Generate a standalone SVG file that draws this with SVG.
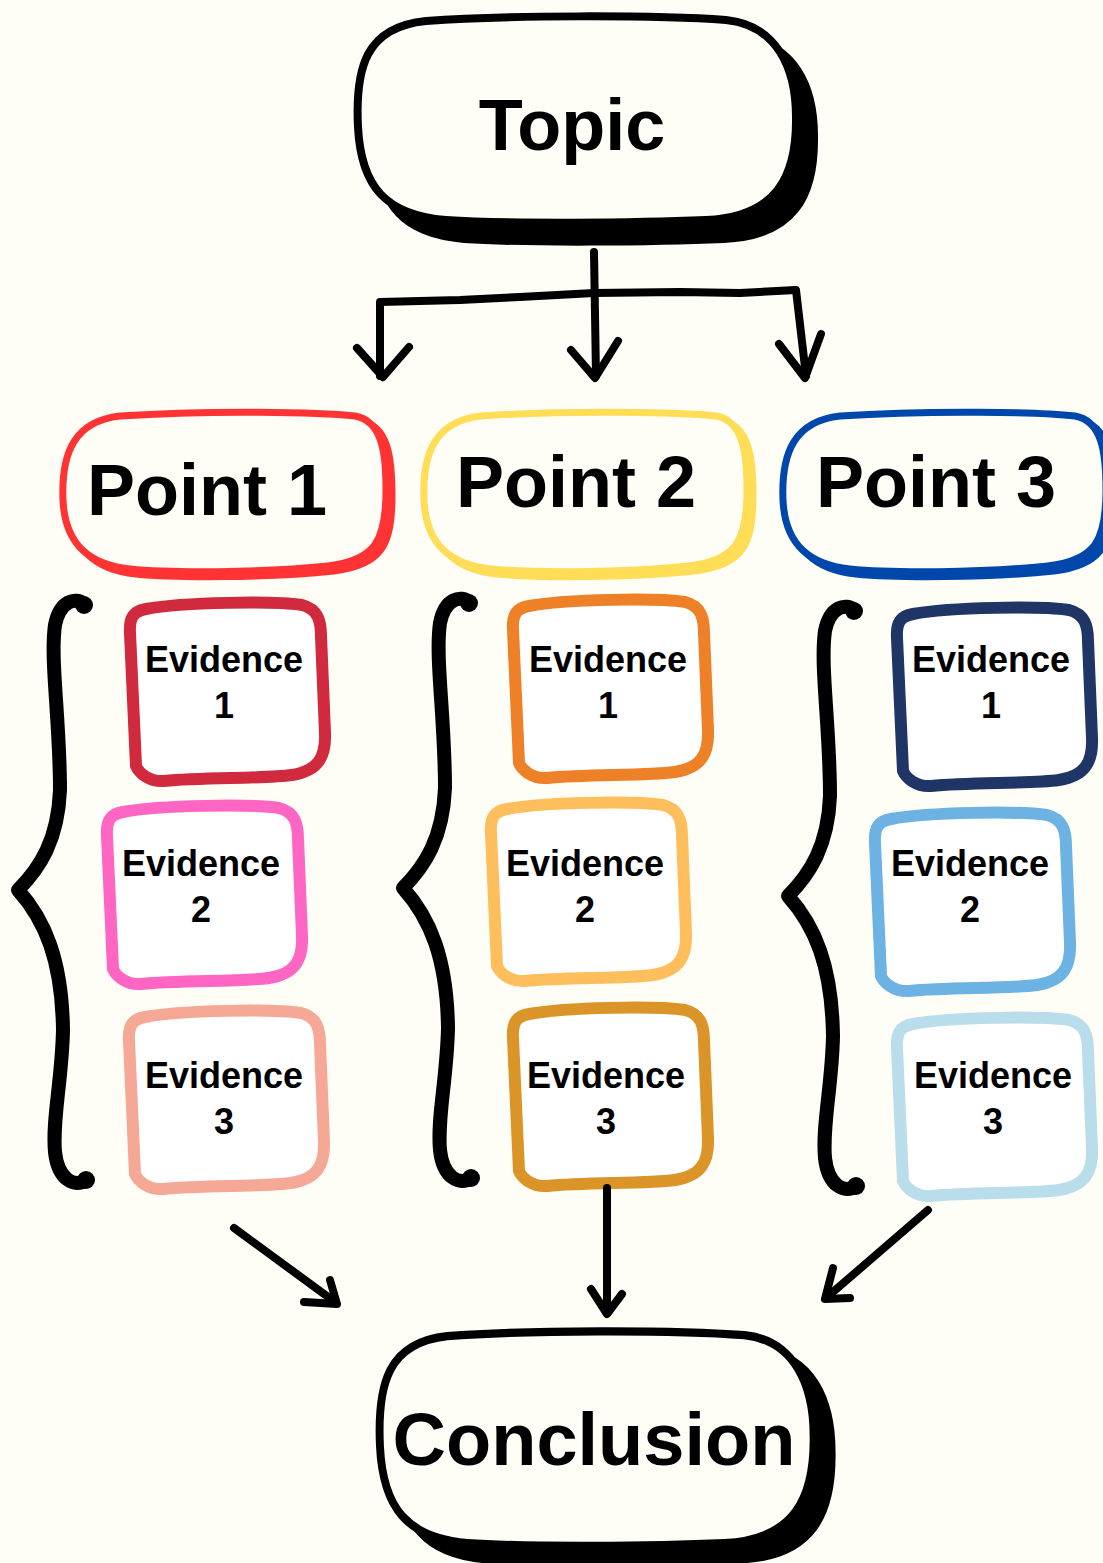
<svg xmlns="http://www.w3.org/2000/svg" width="1103" height="1563" viewBox="0 0 1103 1563">
<style>
.bg{fill:#FEFEF6}
.t{font-family:"Liberation Sans",Arial,sans-serif;font-weight:bold;fill:#000;text-anchor:middle}
.big{font-size:72px}
.ev{font-size:36px}
.line{fill:none;stroke:#000;stroke-width:8;stroke-linecap:round;stroke-linejoin:round}
.brace{fill:none;stroke:#000;stroke-width:14;stroke-linecap:round;stroke-linejoin:round}
.evbox{fill:#FFFFFF;stroke-width:12;stroke-linejoin:round}
</style>
<defs>
<path id="bigbox" d="M70,4 C150,-2 300,-2 370,3 C420,8 440,50 440,100 C441,160 420,200 350,203 C280,206 150,207 90,203 C30,198 5,170 2,110 C-1,50 10,10 70,4 Z"/>
<path id="ptbox" d="M60,4 C150,-2 260,0 295,4 C322,9 326,40 326,78 C326,128 316,148 268,154 C200,161 110,161 70,157 C30,153 5,133 3,88 C1,40 15,9 60,4 Z"/>
<path id="ev" d="M22,8 C60,1 150,0 178,4 C194,8 197,20 197,35 L201,132 C202,156 194,170 168,174 C138,178 80,176 40,180 C25,181 15,172 12,165 L6,32 C5,16 10,10 22,8 Z"/>
</defs>
<rect class="bg" x="0" y="0" width="1103" height="1563"/>

<g id="topic">
<use href="#bigbox" transform="translate(374,36)" fill="#000" stroke="#000" stroke-width="8"/>
<use href="#bigbox" transform="translate(356,17)" fill="#FEFEF6" stroke="#000" stroke-width="8"/>
<text class="t big" x="572" y="150">Topic</text>
</g>

<g id="point1">
<use href="#ptbox" transform="translate(66,417)" fill="#FF3333" stroke="#FF3333" stroke-width="7"/>
<use href="#ptbox" transform="translate(60,412)" fill="#FEFEF6" stroke="#FF3333" stroke-width="7"/>
<text class="t big" x="207" y="515">Point 1</text>
</g>
<g id="point2">
<use href="#ptbox" transform="translate(427,417)" fill="#FFDD57" stroke="#FFDD57" stroke-width="7"/>
<use href="#ptbox" transform="translate(421,412)" fill="#FEFEF6" stroke="#FFDD57" stroke-width="7"/>
<text class="t big" x="576" y="507">Point 2</text>
</g>
<g id="point3">
<use href="#ptbox" transform="translate(786,417)" fill="#0047AB" stroke="#0047AB" stroke-width="7"/>
<use href="#ptbox" transform="translate(780,412)" fill="#FEFEF6" stroke="#0047AB" stroke-width="7"/>
<text class="t big" x="936" y="507">Point 3</text>
</g>

<g id="ev1-1"><use href="#ev" class="evbox" transform="translate(124,601)" stroke="#D1293D"/><text class="t ev" x="224" y="672">Evidence</text><text class="t ev" x="224" y="718">1</text></g>
<g id="ev1-2"><use href="#ev" class="evbox" transform="translate(101,804)" stroke="#FF66C4"/><text class="t ev" x="201" y="876">Evidence</text><text class="t ev" x="201" y="922">2</text></g>
<g id="ev1-3"><use href="#ev" class="evbox" transform="translate(123,1009)" stroke="#F5A896"/><text class="t ev" x="224" y="1088">Evidence</text><text class="t ev" x="224" y="1134">3</text></g>

<g id="ev2-1"><use href="#ev" class="evbox" transform="translate(507,598)" stroke="#EE8027"/><text class="t ev" x="608" y="672">Evidence</text><text class="t ev" x="608" y="718">1</text></g>
<g id="ev2-2"><use href="#ev" class="evbox" transform="translate(485,801)" stroke="#FFBE5C"/><text class="t ev" x="585" y="876">Evidence</text><text class="t ev" x="585" y="922">2</text></g>
<g id="ev2-3"><use href="#ev" class="evbox" transform="translate(507,1006)" stroke="#DA9428"/><text class="t ev" x="606" y="1088">Evidence</text><text class="t ev" x="606" y="1134">3</text></g>

<g id="ev3-1"><use href="#ev" class="evbox" transform="translate(891,606)" stroke="#1F3566"/><text class="t ev" x="991" y="672">Evidence</text><text class="t ev" x="991" y="718">1</text></g>
<g id="ev3-2"><use href="#ev" class="evbox" transform="translate(869,811)" stroke="#6CB2E2"/><text class="t ev" x="970" y="876">Evidence</text><text class="t ev" x="970" y="922">2</text></g>
<g id="ev3-3"><use href="#ev" class="evbox" transform="translate(891,1016)" stroke="#BADDEC"/><text class="t ev" x="993" y="1088">Evidence</text><text class="t ev" x="993" y="1134">3</text></g>

<g id="braces">
<g id="brace1">
<path class="brace" d="M84,604 C76,597 60,600 55,625 C50,660 60,720 60,790 C58,840 40,868 18,890 C45,920 62,960 63,1030 C62,1080 52,1120 55,1152 C58,1180 75,1188 86,1180"/>
<circle cx="84" cy="605" r="9"/><circle cx="86" cy="1180" r="9"/>
</g>
<g id="brace2" transform="translate(385,-2)">
<path class="brace" d="M84,604 C76,597 60,600 55,625 C50,660 60,720 60,790 C58,840 40,868 18,890 C45,920 62,960 63,1030 C62,1080 52,1120 55,1152 C58,1180 75,1188 86,1180"/>
<circle cx="84" cy="605" r="9"/><circle cx="86" cy="1180" r="9"/>
</g>
<g id="brace3" transform="translate(770,6)">
<path class="brace" d="M84,604 C76,597 60,600 55,625 C50,660 60,720 60,790 C58,840 40,868 18,890 C45,920 62,960 63,1030 C62,1080 52,1120 55,1152 C58,1180 75,1188 86,1180"/>
<circle cx="84" cy="605" r="9"/><circle cx="86" cy="1180" r="9"/>
</g>
</g>

<g id="conclusion">
<use href="#bigbox" transform="translate(396,1348) scale(0.99,1.04)" fill="#000" stroke="#000" stroke-width="8"/>
<use href="#bigbox" transform="translate(378,1332) scale(0.99,1.04)" fill="#FEFEF6" stroke="#000" stroke-width="8"/>
<text class="t" style="font-size:74px" x="594" y="1465">Conclusion</text>
</g>

<g id="connectors">
<path class="line" d="M594,252 L596,376"/>
<path class="line" d="M380,376 L380,302 L460,300 L520,297 L594,293 L680,292 L740,293 L796,290 L806,376"/>
<path class="line" d="M357,348 L383,377 L409,347"/>
<path class="line" d="M571,350 L595,378 L618,341"/>
<path class="line" d="M779,344 L805,378 L821,334"/>
<path class="line" d="M234,1228 L335,1302"/>
<path class="line" d="M304,1302 L337,1304 L330,1280"/>
<path class="line" d="M607,1188 L607,1312"/>
<path class="line" d="M591,1289 L607,1314 L622,1294"/>
<path class="line" d="M928,1210 L826,1298"/>
<path class="line" d="M833,1268 L825,1299 L850,1298"/>
</g>
</svg>
